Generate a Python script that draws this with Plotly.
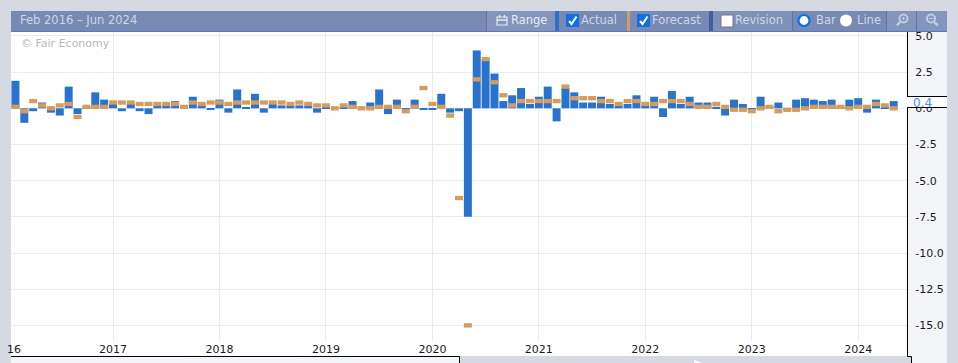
import plotly.graph_objects as go

# Monthly data, Feb 2016 - May 2024
actual_2016 = [1.9, -1.0, -0.2, 0.4, -0.3, -0.5, 1.5, -0.4, 0.1, 1.1, 0.6]
forecast_2016 = [0.1, -0.2, 0.5, 0.2, 0.0, 0.2, 0.3, -0.6, 0.1, 0.1, 0.1]
actual_2017 = [0.3, -0.2, 0.3, -0.2, -0.4, 0.2, 0.2, 0.5, 0.1, 0.8, 0.2, -0.1]
forecast_2017 = [0.4, 0.4, 0.4, 0.3, 0.3, 0.3, 0.3, 0.3, 0.1, 0.4, 0.3, 0.4]
actual_2018 = [0.6, -0.3, 1.3, 0.05, 1.0, -0.3, 0.3, 0.2, 0.2, 0.2, 0.2, -0.3]
forecast_2018 = [0.4, 0.3, 0.4, 0.4, 0.4, 0.4, 0.4, 0.4, 0.3, 0.4, 0.3, 0.2]
actual_2019 = [0.1, 0.0, 0.1, 0.5, 0.0, 0.4, 1.3, -0.4, 0.6, -0.1, 0.6, -0.05]
forecast_2019 = [0.2, 0.0, 0.2, 0.1, 0.0, 0.0, 0.1, 0.1, 0.1, -0.2, 0.1, 1.4]
actual_2020 = [-0.1, 1.0, -0.3, -0.2, -7.5, 4.0, 3.4, 2.4, 0.5, 0.9, 1.4, 0.3]
forecast_2020 = [0.3, 0.1, -0.5, -6.2, -15.0, 2.0, 3.4, 1.8, 0.9, 0.2, 0.5, 0.5]
actual_2021 = [0.8, 1.5, -0.9, 1.4, 1.1, 0.4, 0.4, 0.8, 0.3, 0.2, 0.3, 0.9]
forecast_2021 = [0.5, 0.5, 0.5, 1.5, 0.7, 0.7, 0.7, 0.5, 0.5, 0.3, 0.5, 0.5]
actual_2022 = [0.2, 0.8, -0.6, 1.2, 0.3, 0.8, 0.4, 0.4, 0.1, -0.5, 0.6, 0.3]
forecast_2022 = [0.3, 0.3, 0.5, 0.5, 0.5, 0.3, 0.1, 0.1, 0.3, 0.1, -0.1, -0.1]
actual_2023 = [-0.1, 0.8, 0.1, 0.4, -0.1, 0.6, 0.7, 0.6, 0.5, 0.6, 0.1, 0.6]
forecast_2023 = [-0.2, 0.0, 0.1, -0.2, -0.1, -0.1, 0.0, 0.1, 0.1, 0.1, 0.1, 0.0]
actual_2024 = [0.7, -0.3, 0.6, 0.1, 0.5]
forecast_2024 = [0.1, 0.1, 0.3, 0.2, 0.0]

actual = (actual_2016 + actual_2017 + actual_2018 + actual_2019 + actual_2020
          + actual_2021 + actual_2022 + actual_2023 + actual_2024)
forecast = (forecast_2016 + forecast_2017 + forecast_2018 + forecast_2019 + forecast_2020
            + forecast_2021 + forecast_2022 + forecast_2023 + forecast_2024)
months = list(range(len(actual)))

year_ticks = [11, 23, 35, 47, 59, 71, 83, 95]
year_labels = ["2017", "2018", "2019", "2020", "2021", "2022", "2023", "2024"]
y_ticks = [5, 2.5, 0, -2.5, -5, -7.5, -10, -12.5, -15]
y_labels = ["5.0", "2.5", "0.0", "-2.5", "-5.0", "-7.5", "-10.0", "-12.5", "-15.0"]

W, H = 958, 363
L, R, T, B = 11, 907, 32, 341
FONT = "DejaVu Sans"
BLUE = "#2773ce"
ORANGE = "#d69c5e"
PAGE = "#d5d9e2"
PANEL = "#f3f5f9"
BAND = "#7889b4"
BTN = "#8494bd"
SEP = "#5f75a9"
TXT = "#cfd6e6"
MARK_H = 0.3


def px(x):
    return (x - L) / (R - L)


def py(y):
    return (B - y) / (B - T)


def rect(x0, y0, x1, y1, fill, line=None, lw=1):
    return dict(type="rect", xref="paper", yref="paper", layer="below",
                x0=px(x0), x1=px(x1), y0=py(y1), y1=py(y0), fillcolor=fill,
                line=dict(width=lw if line else 0, color=line or fill))


def seg(pts, color, lw=1):
    d = "M" + " L".join(f"{px(a):.5f},{py(b):.5f}" for a, b in pts)
    return dict(type="path", xref="paper", yref="paper", layer="below", path=d,
                line=dict(color=color, width=lw))


def circ(cx, cy, r, fill, line=None, lw=1):
    return dict(type="circle", xref="paper", yref="paper", layer="below",
                x0=px(cx - r), x1=px(cx + r), y0=py(cy + r), y1=py(cy - r), fillcolor=fill,
                line=dict(width=lw if line else 0, color=line or fill))


def label(x, y, text, color=TXT, size=11.5, anchor="left"):
    return dict(xref="paper", yref="paper", x=px(x), y=py(y), text=text, showarrow=False,
                xanchor=anchor, yanchor="middle", borderpad=0,
                font=dict(family=FONT, size=size, color=color))


shapes = [
    rect(L, T, R, 356, "#ffffff"),
    rect(907, T, 947, 356, PANEL),
    rect(911, 356, 947, 363, PANEL),
    rect(L, 356, 459, 363, PANEL),
    seg([(L, 356.5), (459.5, 356.5), (459.5, 363)], "#000000"),
    seg([(907.5, 341), (907.5, 356.5), (911.5, 356.5), (911.5, 363)], "#000000"),
    seg([(907, 96.5), (947, 96.5)], "#000000"),
    seg([(907, 107.5), (947, 107.5)], "#000000"),
    rect(L, 11, 947, 31, BAND),
    rect(487, 11, 555, 31, BTN),
    rect(713, 11, 792, 31, "#7f90b9"),
    rect(886, 11, 947, 31, BTN),
    rect(555, 11, 559, 31, BLUE),
    rect(627, 11, 630, 31, ORANGE),
    rect(709, 11, 713, 31, "#3f5f9e"),
    seg([(L, 31.5), (947, 31.5)], "#5a78b4"),
    seg([(486.5, 11), (486.5, 31)], SEP),
    seg([(792.5, 11), (792.5, 31)], SEP),
    seg([(886.5, 11), (886.5, 31)], SEP),
    seg([(916.5, 11), (916.5, 31)], SEP),
    # calendar icon
    rect(497, 17, 507, 25, "rgba(0,0,0,0)", "#e6eaf3", 1.2),
    seg([(497, 20), (507, 20)], "#e6eaf3", 1.5),
    seg([(499.5, 15), (499.5, 18)], "#e6eaf3", 1.2),
    seg([(504.5, 15), (504.5, 18)], "#e6eaf3", 1.2),
    # checkboxes
    rect(566, 14, 579, 27, "#0f6fe6"),
    seg([(569, 21), (571.5, 24), (576.5, 16.5)], "#ffffff", 2),
    rect(637, 14, 650, 27, "#0f6fe6"),
    seg([(640, 21), (642.5, 24), (647.5, 16.5)], "#ffffff", 2),
    rect(721, 15, 733, 27, "#ffffff", "#777777", 1),
    # radios
    circ(804, 20.5, 5.5, "#ffffff", "#0f6fe6", 2.2),
    circ(846, 20.5, 6, "#ffffff"),
    # magnifiers
    circ(903.5, 18.5, 4, "rgba(0,0,0,0)", "#c2cce0", 2),
    seg([(900, 22), (897, 25.5)], "#c2cce0", 2.4),
    seg([(902, 18.5), (905, 18.5)], "#c2cce0", 1),
    seg([(903.5, 17), (903.5, 20)], "#c2cce0", 1),
    circ(931, 18.5, 4, "rgba(0,0,0,0)", "#c2cce0", 2),
    seg([(934, 22), (938, 25.5)], "#c2cce0", 2.4),
    seg([(929, 18.5), (933, 18.5)], "#c2cce0", 1),
    # scrollbar markers
    dict(type="path", xref="paper", yref="paper", layer="below", fillcolor="#ffffff",
         line=dict(width=0),
         path=f"M{px(694):.5f},{py(360):.5f} L{px(702):.5f},{py(363):.5f} L{px(694):.5f},{py(363):.5f} Z"),
]

annotations = [
    label(19, 20.5, "Feb 2016 – Jun 2024"),
    label(510, 20.5, "Range", "#e8ecf4"),
    label(580, 20.5, "Actual"),
    label(651, 20.5, "Forecast"),
    label(734, 20.5, "Revision"),
    label(815, 20.5, "Bar"),
    label(856, 20.5, "Line"),
    label(20, 44, "© Fair Economy", "#b8b8b8", 11),
    label(22, 349, "16", "#1a1a1a", 11, "right"),
    dict(xref="paper", yref="y", x=px(907), y=0.435, text=" ", showarrow=False,
         xanchor="left", yanchor="middle", width=40, height=10, bgcolor="#ffffff",
         borderpad=0, borderwidth=0, font=dict(size=8)),
    dict(xref="paper", yref="y", x=px(912), y=0.4, text="0.4", showarrow=False,
         xanchor="left", yanchor="middle", borderpad=0,
         font=dict(family=FONT, size=12, color="#4a90e2")),
]

fig = go.Figure()
fig.add_trace(go.Bar(x=months, y=actual, width=0.9, marker=dict(color=BLUE, line=dict(width=0)),
                     name="Actual"))
fig.add_trace(go.Bar(x=months, y=[MARK_H] * len(forecast), base=[f - MARK_H / 2 for f in forecast],
                     width=0.9, marker=dict(color=ORANGE, line=dict(width=0)), name="Forecast"))

fig.update_layout(
    width=W, height=H, barmode="overlay", showlegend=False,
    margin=dict(l=L, r=W - R, t=T, b=H - B, pad=0, autoexpand=False),
    paper_bgcolor=PAGE, plot_bgcolor="#ffffff",
    font=dict(family=FONT, size=11, color="#1a1a1a"),
    shapes=shapes, annotations=annotations,
    xaxis=dict(range=[-0.5, 100.5], tickmode="array", tickvals=year_ticks, ticktext=year_labels,
               automargin=False,
               showgrid=True, gridcolor="#e9ebf2", gridwidth=1, zeroline=False, showline=False,
               ticks="", ticklabelstandoff=0,
               tickfont=dict(family=FONT, size=11, color="#1a1a1a")),
    yaxis=dict(range=[-16.08, 5.273], side="right", tickmode="array", tickvals=y_ticks,
               ticktext=y_labels, automargin=False,
               showgrid=True, gridcolor="#e9ebf2", gridwidth=1, zeroline=False,
               showline=True, linecolor="#000000", linewidth=1,
               ticks="outside", ticklen=5, tickcolor="rgba(0,0,0,0)",
               tickfont=dict(family=FONT, size=11, color="#1a1a1a")),
)

fig.write_html("out.html", config=dict(displayModeBar=False),
               post_script="document.body.style.margin='0';")
